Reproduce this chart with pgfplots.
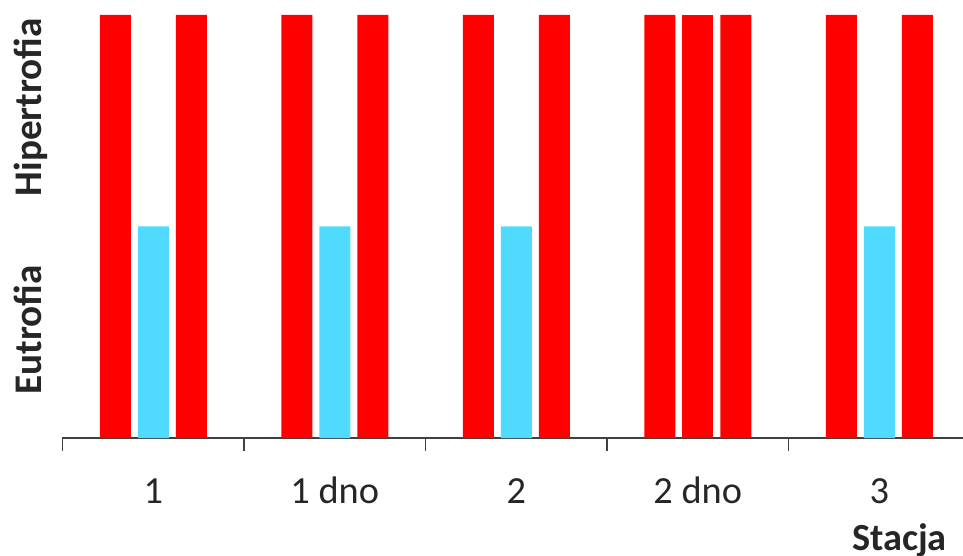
\documentclass[border=0pt]{standalone}
\usepackage{fontspec}
\setmainfont{Carlito}
\usepackage{pgfplots}
\pgfplotsset{compat=1.18}
\definecolor{barred}{RGB}{255,0,0}
\definecolor{barcyan}{RGB}{80,218,255}
\definecolor{axisgray}{RGB}{64,64,64}
\definecolor{txt}{RGB}{38,38,38}
\begin{document}
\begin{tikzpicture}
\begin{axis}[
  scale only axis,
  width=900.5bp, height=423bp,
  xmin=-0.5, xmax=4.461,
  ymin=0, ymax=2,
  axis x line*=bottom,
  axis y line*=left,
  y axis line style={draw=none},
  x axis line style={draw=axisgray, line width=1.5bp, -},
  xtick={0,1,2,3,4},
  xticklabels={1,1 dno,2,2 dno,3},
  minor xtick={-0.5,0.5,1.5,2.5,3.5},
  major tick length=0pt,
  minor tick length=13bp,
  tick align=outside,
  tick style={draw=axisgray, line width=1.5bp},
  ytick={0.512,1.564},
  yticklabels={Eutrofia,Hipertrofia},
  xticklabel style={font=\fontsize{38.5}{46}\selectfont, text=txt, anchor=base},
  xticklabel shift=65bp,
  yticklabel style={font=\bfseries\fontsize{39.3}{46}\selectfont, text=txt, rotate=90, anchor=base},
  yticklabel shift=21bp,
  xlabel={Stacja},
  xlabel style={font=\bfseries\fontsize{38.5}{46}\selectfont, text=txt, inner sep=0pt,
    at={(axis description cs:0.9822,0)}, anchor=base east, yshift=-112bp},
]
\addplot[ybar, bar width=31bp, bar shift=-38bp, fill=barred, draw=none]
  coordinates {(0,2) (1,2) (2,2) (3,2) (4,2)};
\addplot[ybar, bar width=31bp, bar shift=0bp, fill=barcyan, draw=none]
  coordinates {(0,1) (1,1) (2,1) (4,1)};
\addplot[ybar, bar width=31bp, bar shift=0bp, fill=barred, draw=none]
  coordinates {(3,2)};
\addplot[ybar, bar width=31bp, bar shift=38bp, fill=barred, draw=none]
  coordinates {(0,2) (1,2) (2,2) (3,2) (4,2)};
\coordinate (bl) at (rel axis cs:0,0);
\coordinate (tr) at (rel axis cs:1,1);
\end{axis}
\pgfresetboundingbox
\useasboundingbox ([xshift=-62.5bp,yshift=-118bp]bl) rectangle ([yshift=15bp]tr);
\end{tikzpicture}
\end{document}
